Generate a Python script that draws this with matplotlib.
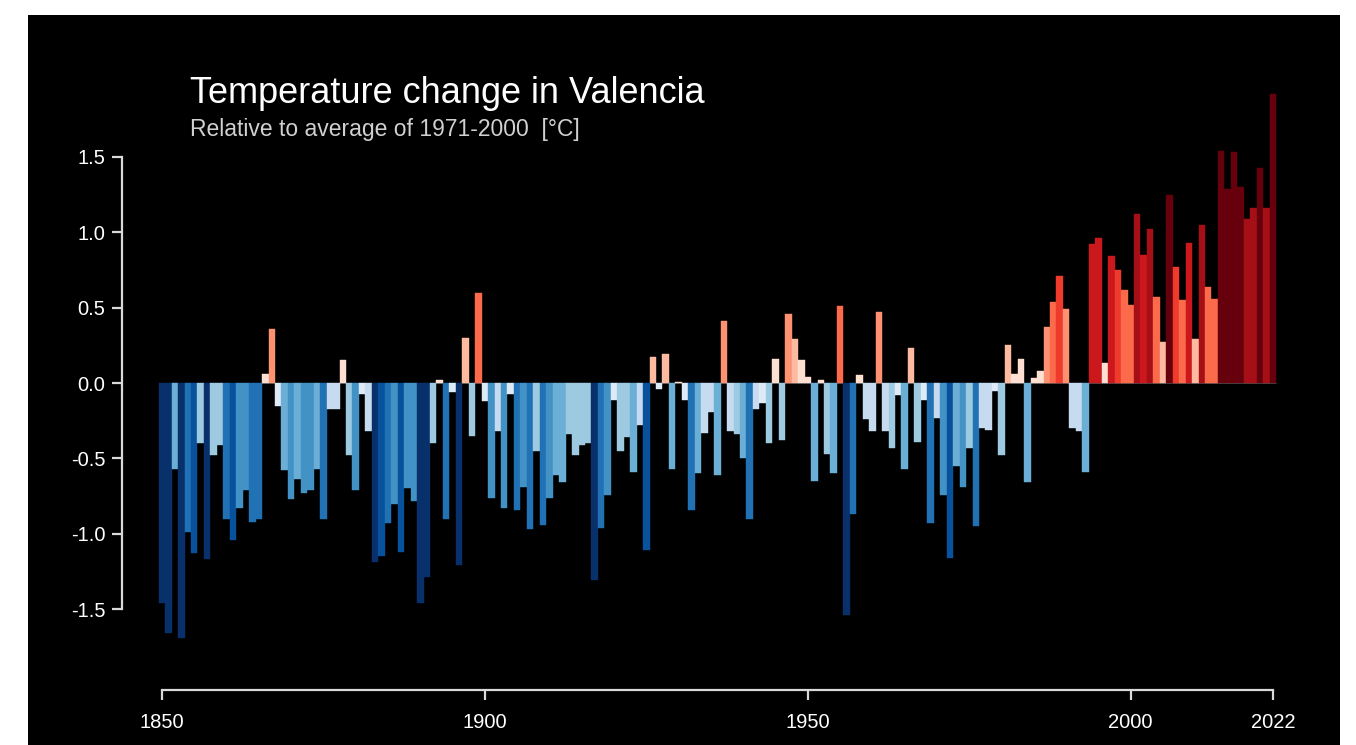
import numpy as np
import matplotlib
matplotlib.use('Agg')
import matplotlib.pyplot as plt
from matplotlib.colors import ListedColormap, Normalize
from matplotlib.patches import Rectangle

plt.rcParams['font.family'] = ['Liberation Sans', 'DejaVu Sans']

# Yearly anomaly relative to 1971-2000 (degC)
years = np.arange(1850, 2023)
anomaly = [
    -1.46, -1.66, -0.57, -1.69, -0.99, -1.13, -0.40, -1.17, -0.48, -0.41,  # 1850s
    -0.90, -1.04, -0.83, -0.71, -0.92, -0.90, 0.06, 0.36, -0.15, -0.58,    # 1860s
    -0.77, -0.64, -0.73, -0.71, -0.57, -0.90, -0.17, -0.17, 0.15, -0.48,   # 1870s
    -0.71, -0.07, -0.32, -1.19, -1.15, -0.93, -0.80, -1.12, -0.70, -0.78,  # 1880s
    -1.46, -1.29, -0.40, 0.02, -0.90, -0.06, -1.21, 0.30, -0.35, 0.60,     # 1890s
    -0.12, -0.76, -0.32, -0.83, -0.07, -0.84, -0.69, -0.97, -0.45, -0.94,  # 1900s
    -0.76, -0.61, -0.66, -0.34, -0.48, -0.41, -0.40, -1.31, -0.96, -0.74,  # 1910s
    -0.11, -0.45, -0.36, -0.59, -0.28, -1.11, 0.17, -0.04, 0.19, -0.57,    # 1920s
    0.01, -0.11, -0.84, -0.60, -0.33, -0.19, -0.61, 0.41, -0.32, -0.34,    # 1930s
    -0.50, -0.90, -0.17, -0.13, -0.40, 0.16, -0.38, 0.46, 0.29, 0.15,      # 1940s
    0.04, -0.65, 0.02, -0.47, -0.60, 0.51, -1.54, -0.87, 0.05, -0.24,      # 1950s
    -0.32, 0.47, -0.32, -0.43, -0.08, -0.57, 0.23, -0.39, -0.11, -0.93,    # 1960s
    -0.23, -0.74, -1.16, -0.55, -0.69, -0.43, -0.95, -0.30, -0.31, -0.05,  # 1970s
    -0.48, 0.25, 0.06, 0.16, -0.66, 0.03, 0.08, 0.37, 0.54, 0.71,          # 1980s
    0.49, -0.30, -0.32, -0.59, 0.92, 0.96, 0.13, 0.84, 0.75, 0.62,         # 1990s
    0.52, 1.12, 0.85, 1.02, 0.57, 0.27, 1.25, 0.77, 0.55, 0.93,            # 2000s
    0.29, 1.05, 0.64, 0.56, 1.54, 1.29, 1.53, 1.30, 1.09, 1.16,            # 2010s
    1.43, 1.16, 1.92,                                                      # 2020s
]
x_ticks = [1850, 1900, 1950, 2000, 2022]
y_ticks = [-1.5, -1.0, -0.5, 0.0, 0.5, 1.0, 1.5]

# warming-stripes palette (blues -> reds), 16 equal bins
stripe_colors = ['#08306b', '#08519c', '#2171b5', '#4292c6',
                 '#6baed6', '#9ecae1', '#c6dbef', '#deebf7',
                 '#fee0d2', '#fcbba1', '#fc9272', '#fb6a4a',
                 '#ef3b2c', '#cb181d', '#a50f15', '#67000d']
cmap = ListedColormap(stripe_colors)
norm = Normalize(vmin=-1.333, vmax=1.333)

fig = plt.figure(figsize=(13.56, 7.45), dpi=100, facecolor='white')
# black panel inside a thin white margin, like the screenshot
fig.patches.append(Rectangle((28 / 1356, 0), (1340 - 28) / 1356, 1 - 15 / 745,
                             transform=fig.transFigure, facecolor='black',
                             edgecolor='none', zorder=-10))

ax = fig.add_axes([0.1099, 0.0733, 0.8383, 0.8171])
ax.set_facecolor('none')
ax.set_zorder(5)

bar_colors = cmap(norm(np.array(anomaly)))
ax.hlines(0, years[0] - 0.5, years[-1] + 0.5, color='#555555',
          linewidth=0.6, zorder=1)
ax.bar(years, anomaly, width=1.0, color=bar_colors, edgecolor=bar_colors,
       linewidth=0.3, zorder=2)

ax.set_xlim(1848, 2024)
ax.set_ylim(-2.04, 2.0)

# R-style axes: only the tick range, pushed away from the data
axis_color = '#d9d9d9'
for side in ['top', 'right']:
    ax.spines[side].set_visible(False)
ax.spines['left'].set_position(('outward', 19.5))
ax.spines['left'].set_bounds(-1.5, 1.5)
ax.spines['bottom'].set_bounds(1850, 2022)
for side in ['left', 'bottom']:
    ax.spines[side].set_color(axis_color)
    ax.spines[side].set_linewidth(1.6)

ax.set_xticks(x_ticks)
ax.set_xticklabels([str(t) for t in x_ticks])
ax.set_yticks(y_ticks)
ax.set_yticklabels([f'{t:.1f}' for t in y_ticks])
ax.tick_params(colors=axis_color, labelcolor='white', labelsize=14.5,
               width=1.6, length=7, direction='out')
ax.tick_params(axis='x', pad=9)
ax.tick_params(axis='y', pad=5)

fig.text(190 / 1356, 1 - 103 / 745, 'Temperature change in Valencia',
         color='white', fontsize=26, va='baseline', ha='left')
fig.text(190 / 1356, 1 - 136 / 745, 'Relative to average of 1971-2000  [°C]',
         color='#d0d0d0', fontsize=16.5, va='baseline', ha='left')

fig.savefig('out.png', dpi=100, facecolor=fig.get_facecolor())
